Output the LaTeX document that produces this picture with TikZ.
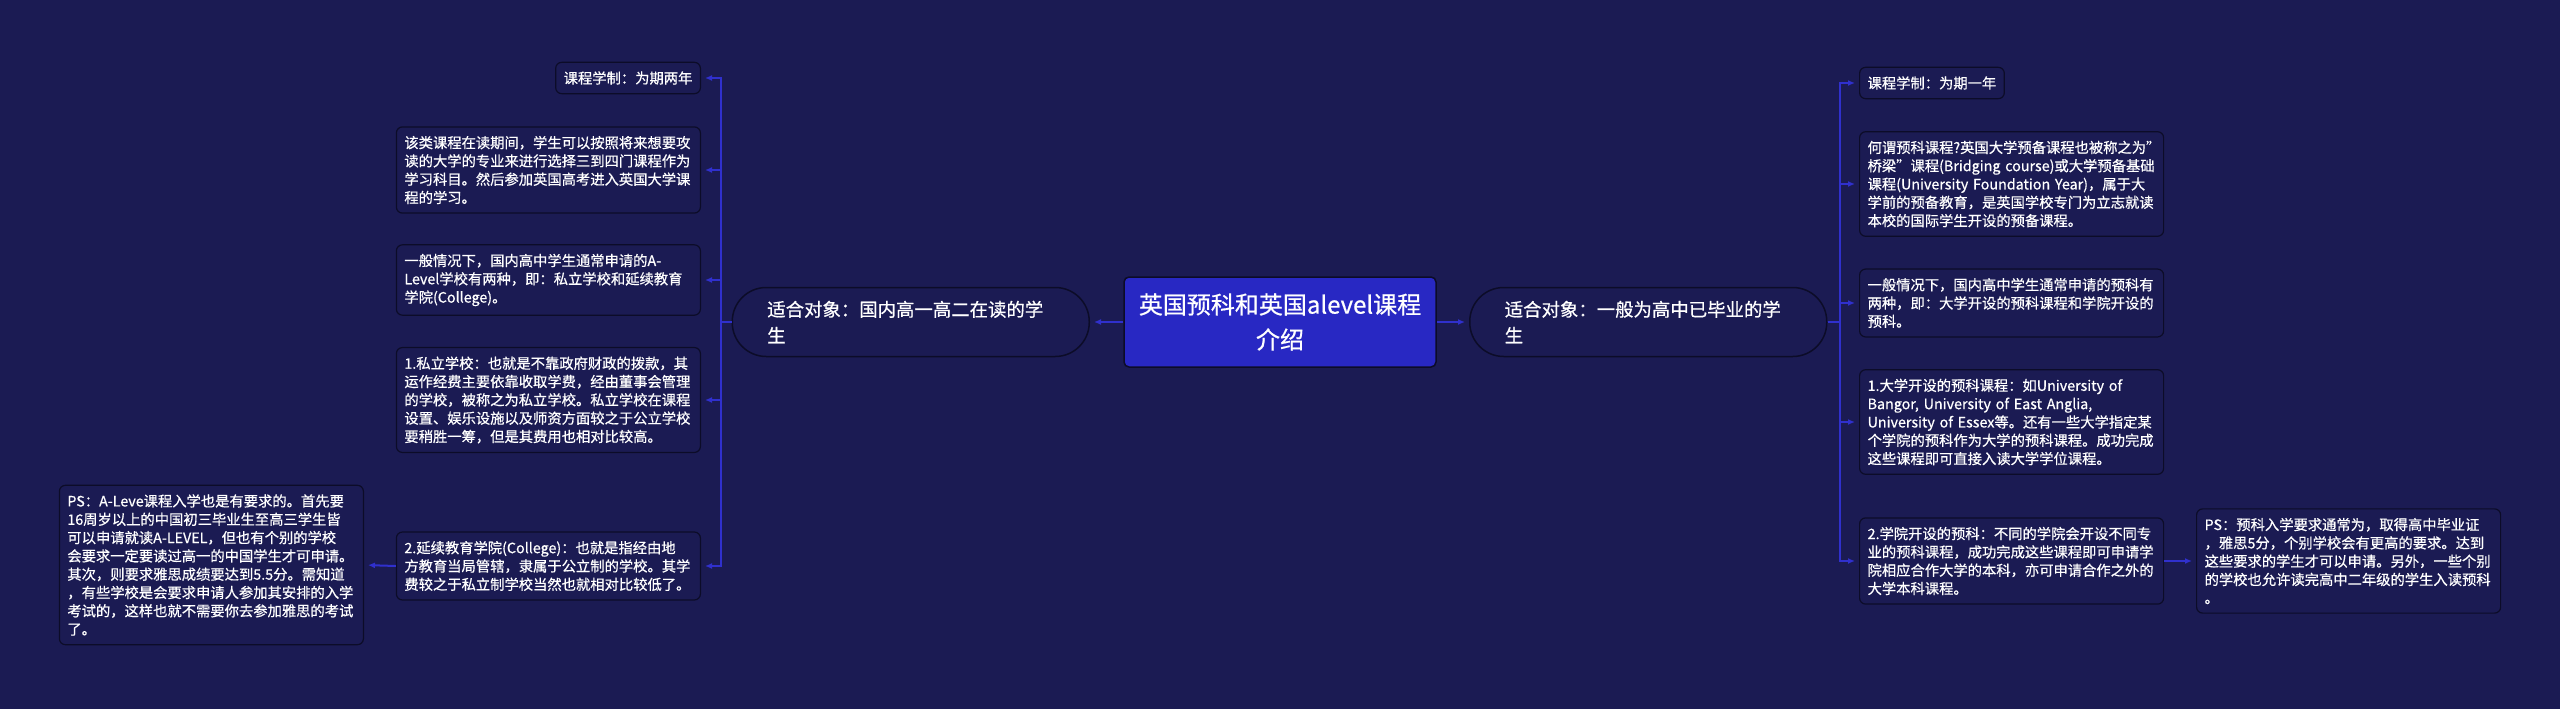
\documentclass[tikz,border=0pt]{standalone}
\usepackage{fontspec}
\setmainfont{Noto Sans CJK SC}[FakeBold=0.6]
\usetikzlibrary{arrows.meta}
\definecolor{bgnavy}{RGB}{27,27,83}
\definecolor{linkblue}{RGB}{48,48,205}
\definecolor{rootblue}{RGB}{40,40,195}
\definecolor{edgedark}{RGB}{12,12,40}
\tikzset{
  leaf/.style={draw=edgedark, line width=1.2pt, fill=bgnavy, rounded corners=6pt,
    text=white, align=left, inner xsep=8pt, inner ysep=9pt,
    font=\fontsize{14.3}{18.3}\selectfont},
  wide/.style={leaf, text width=288pt},
  topic/.style={draw=edgedark, line width=1.5pt, fill=bgnavy, rounded corners=34pt,
    text=white, align=left, text width=287pt, inner xsep=35pt, minimum height=69pt,
    font=\fontsize{18.4}{26}\selectfont},
  root/.style={draw=edgedark, line width=1.5pt, fill=rootblue, rounded corners=5pt,
    text=white, align=center, minimum width=312pt, minimum height=90pt,
    font=\fontsize{24}{35}\selectfont},
  link/.style={draw=linkblue, line width=2pt, -{Latex[length=7pt,width=6pt]}, shorten >=4pt}
}
\begin{document}
\begin{tikzpicture}[x=1pt,y=-1pt]
  \fill[bgnavy] (0,0) rectangle (2560,709);
  \useasboundingbox (0,0) rectangle (2560,709);

  % centre and the two topics
  \node[root] (main) at (1280,322) {英国预科和英国alevel课程\\介绍};
  \node[topic, anchor=east] (alevel) at (1090,322) {适合对象：国内高一高二在读的学\\生};
  \node[topic, anchor=west] (prep) at (1469,322) {适合对象：一般为高中已毕业的学\\生};

  % left branch
  \node[leaf, anchor=east] (alYears) at (701,78) {课程学制：为期两年};
  \node[wide, anchor=east] (alSubjects) at (701,170) {该类课程在读期间，学生可以按照将来想要攻\\读的大学的专业来进行选择三到四门课程作为\\学习科目。然后参加英国高考进入英国大学课\\程的学习。};
  \node[wide, anchor=east] (alKinds) at (701,280) {一般情况下，国内高中学生通常申请的A-\\Level学校有两种，即：私立学校和延续教育\\学院(College)。};
  \node[wide, anchor=east] (alPrivate) at (701,400) {1.私立学校：也就是不靠政府财政的拨款，其\\运作经费主要依靠收取学费，经由董事会管理\\的学校，被称之为私立学校。私立学校在课程\\设置、娱乐设施以及师资方面较之于公立学校\\要稍胜一筹，但是其费用也相对比较高。};
  \node[wide, anchor=east] (alCollege) at (701,566) {2.延续教育学院(College)：也就是指经由地\\方教育当局管辖，隶属于公立制的学校。其学\\费较之于私立制学校当然也就相对比较低了。};
  \node[wide, anchor=east] (alPS) at (364,565) {PS：A-Leve课程入学也是有要求的。首先要\\16周岁以上的中国初三毕业生至高三学生皆\\可以申请就读A-LEVEL，但也有个别的学校\\会要求一定要读过高一的中国学生才可申请。\\其次，则要求雅思成绩要达到5.5分。需知道\\，有些学校是会要求申请人参加其安排的入学\\考试的，这样也就不需要你去参加雅思的考试\\了。};

  % right branch
  \node[leaf, anchor=west] (prYears) at (1859,83) {课程学制：为期一年};
  \node[wide, anchor=west] (prWhat) at (1859,184) {何谓预科课程?英国大学预备课程也被称之为"\\桥梁"课程(Bridging course)或大学预备基础\\课程(University Foundation Year)，属于大\\学前的预备教育，是英国学校专门为立志就读\\本校的国际学生开设的预备课程。};
  \node[wide, anchor=west] (prKinds) at (1859,303) {一般情况下，国内高中学生通常申请的预科有\\两种，即：大学开设的预科课程和学院开设的\\预科。};
  \node[wide, anchor=west] (prUni) at (1859,422) {1.大学开设的预科课程：如University of\\Bangor, University of East Anglia,\\University of Essex等。还有一些大学指定某\\个学院的预科作为大学的预科课程。成功完成\\这些课程即可直接入读大学学位课程。};
  \node[wide, anchor=west] (prCollege) at (1859,561) {2.学院开设的预科：不同的学院会开设不同专\\业的预科课程，成功完成这些课程即可申请学\\院相应合作大学的本科，亦可申请合作之外的\\大学本科课程。};
  \node[wide, anchor=west] (prPS) at (2196,561) {PS：预科入学要求通常为，取得高中毕业证\\，雅思5分，个别学校会有更高的要求。达到\\这些要求的学生才可以申请。另外，一些个别\\的学校也允许读完高中二年级的学生入读预科\\。};

  % connectors
  \draw[link] (main.west) -- (alevel.east);
  \draw[link] (main.east) -- (prep.west);
  \foreach \n in {alYears,alSubjects,alKinds,alPrivate,alCollege}
    \draw[link] (alevel.west) -- ++(-11,0) |- (\n.east);
  \foreach \n in {prYears,prWhat,prKinds,prUni,prCollege}
    \draw[link] (prep.east) -- ++(12,0) |- (\n.west);
  \draw[link] (alCollege.west) -- (alPS.east);
  \draw[link] (prCollege.east) -- (prPS.west);
\end{tikzpicture}
\end{document}
